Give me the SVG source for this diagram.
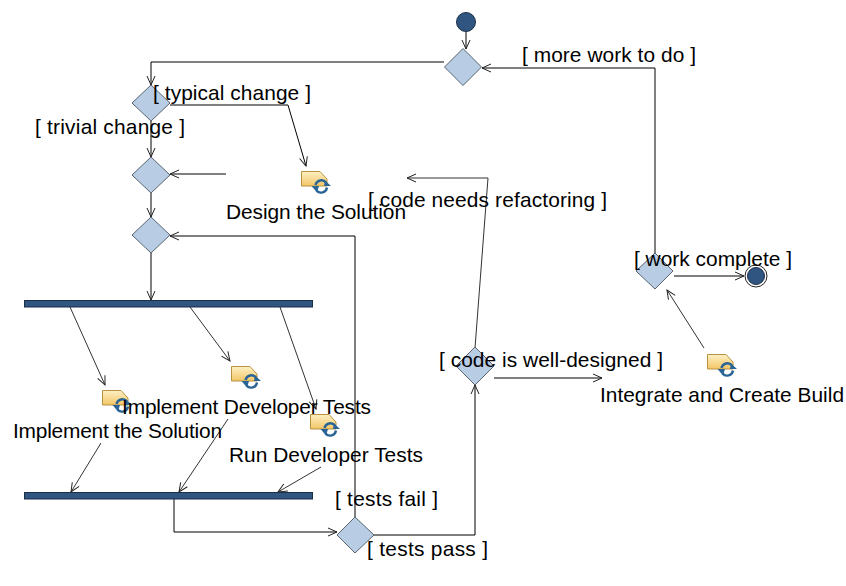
<svg xmlns="http://www.w3.org/2000/svg" xmlns:xlink="http://www.w3.org/1999/xlink" width="846" height="586" viewBox="0 0 846 586">
<style>
text{font-family:"Liberation Sans",Arial,sans-serif;font-size:20.900px;fill:#000}
.d{fill:#b8cce4;stroke:#5a6470;stroke-width:1}
.bar{fill:#2f5580;stroke:#1b2f47;stroke-width:1}
.c{fill:none;stroke:#000;stroke-width:1;marker-end:url(#a)}
.g{fill:none;stroke:#333;stroke-width:1;marker-end:url(#a)}
</style>
<defs>
<marker id="a" markerUnits="userSpaceOnUse" markerWidth="12" markerHeight="12" refX="10" refY="6" orient="auto"><path d="M1 2L10 6L1 10" fill="none" stroke="#222" stroke-width="1"/></marker>
<linearGradient id="y" x1="0" y1="0" x2="0" y2="1"><stop offset="0" stop-color="#fdf0c4"/><stop offset="1" stop-color="#f3c667"/></linearGradient>
<g id="icon">
<path d="M0.500 .5H19L26 8V15H.5Z" fill="url(#y)" stroke="#b8923f"/>
<path d="M14.500 14A6 6 0 0 1 25 11.500M26 16.500A6 6 0 0 1 15.500 19.500" fill="none" stroke="#2a6496" stroke-width="2.400"/>
<path d="M24 9.500L30 15H23Z M16 21.500L10.500 15H18Z" fill="#2a6496"/>
</g>
</defs>
<g id="connectors">
<path class="c" d="M466 32V49"/>
<path class="c" d="M444 62H151V85"/>
<path class="c" d="M655 253V68H482"/>
<path class="c" d="M151 121V157"/>
<path class="c" d="M170 105H288L306 166"/>
<path class="c" d="M226 174H170"/>
<path class="c" d="M151 193V217"/>
<path class="c" d="M151 253V300"/>
<path class="c" d="M355 517V236H170"/>
<path class="g" d="M70 307L105 385"/>
<path class="g" d="M190 307L230 361"/>
<path class="g" d="M280 307L316 409"/>
<path class="g" d="M101 443L71 492"/>
<path class="g" d="M228 419L179 492"/>
<path class="g" d="M321 467L278 492"/>
<path class="c" d="M174 499V532H337"/>
<path class="c" d="M374 535H475V385"/>
<path class="g" d="M475 348L488 178H407"/>
<path class="c" d="M494 378H602"/>
<path class="c" d="M674 276H744"/>
<path class="g" d="M704 348L667 290"/>
</g>
<g id="start"><circle cx="466" cy="22" r="9.500" fill="#2f5580" stroke="#1b2f47"/></g>
<g id="merge1"><path class="d" d="M463 48.500L481.500 67L463 85.500L444.500 67Z"/><text x="522" y="62" textLength="174">[ more work to do ]</text></g>
<g id="decision-change"><path class="d" d="M151 85L170 103L151 121L132 103Z"/></g>
<g id="merge2"><path class="d" d="M151 157L170 175L151 193L132 175Z"/></g>
<g id="merge3"><path class="d" d="M151 217L170 235L151 253L132 235Z"/></g>
<g id="fork"><rect class="bar" x="24.500" y="300.500" width="288" height="6.500"/></g>
<g id="join"><rect class="bar" x="24.500" y="492.500" width="288" height="6.500"/></g>
<g id="decision-tests"><path class="d" d="M355 517L374 535L355 553L337 535Z"/></g>
<g id="decision-design"><path class="d" d="M475 347L494 366L475 385L456 366Z"/></g>
<g id="decision-work"><path class="d" d="M655 253L673 271L655 289L636 271Z"/></g>
<g id="end"><circle cx="756" cy="276" r="11" fill="#fff" stroke="#222"/><circle cx="756" cy="276" r="8.500" fill="#2f5580" stroke="#1b2f47"/></g>
<g id="design"><use href="#icon" x="301" y="171"/><text x="226" y="219" textLength="180">Design the Solution</text></g>
<g id="impl-solution"><use href="#icon" x="102" y="390"/><text x="13" y="438" textLength="209">Implement the Solution</text></g>
<g id="impl-tests"><use href="#icon" x="231" y="366"/><text x="122" y="414" textLength="249">Implement Developer Tests</text></g>
<g id="run-tests"><use href="#icon" x="310" y="414"/><text x="229" y="462" textLength="194">Run Developer Tests</text></g>
<g id="integrate"><use href="#icon" x="707" y="354"/><text x="600" y="402" textLength="244">Integrate and Create Build</text></g>
<g id="guards">
<text x="153" y="100" textLength="158">[ typical change ]</text>
<text x="35" y="134" textLength="150">[ trivial change ]</text>
<text x="368" y="207" textLength="239">[ code needs refactoring ]</text>
<text x="634" y="266" textLength="158">[ work complete ]</text>
<text x="439" y="367" textLength="224">[ code is well-designed ]</text>
<text x="335" y="506" textLength="103">[ tests fail ]</text>
<text x="367" y="556" textLength="121">[ tests pass ]</text>
</g>
</svg>
